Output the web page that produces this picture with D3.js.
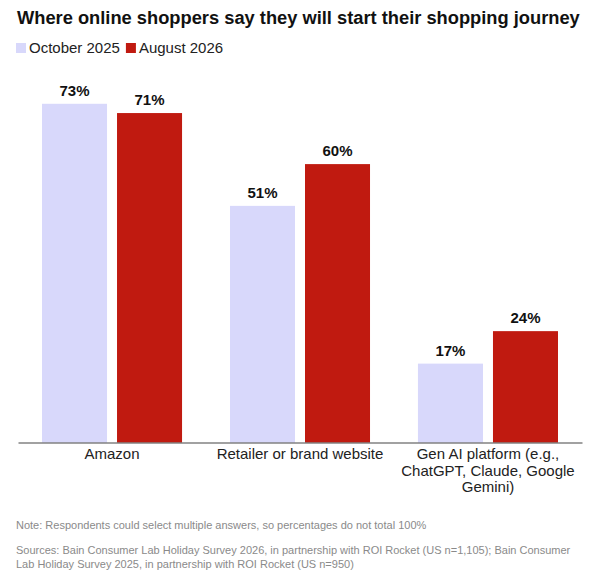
<!DOCTYPE html>
<html>
<head>
<meta charset="utf-8">
<script src="https://cdn.jsdelivr.net/npm/d3@7"></script>
<style>
  body { margin: 0; background: #fff; }
  svg { font-family: 'Liberation Sans', Arial, sans-serif; }
</style>
</head>
<body>
<svg id="container"></svg>
<script>
const categories = ['Amazon', 'Retailer or brand website', 'Gen AI platform (e.g., ChatGPT, Claude, Google Gemini)'];
const seriesNames = ['October 2025', 'August 2026'];
const oct2025 = [73, 51, 17];
const aug2026 = [71, 60, 24];
const seriesColors = ['#d8d8fb', '#c01a10'];
const noteText = 'Note: Respondents could select multiple answers, so percentages do not total 100%';
const sourceLines = [
  'Sources: Bain Consumer Lab Holiday Survey 2026, in partnership with ROI Rocket (US n=1,105); Bain Consumer',
  'Lab Holiday Survey 2025, in partnership with ROI Rocket (US n=950)',
];

function drawChart() {
  const W = 591;
  const H = 573;
  const svg = d3.select('#container').attr('width', W).attr('height', H);

  const values = [oct2025, aug2026];
  const rows = categories.map((c, i) => ({
    cat: c,
    vals: seriesNames.map((s, j) => ({ key: s, v: values[j][i] })),
  }));

  // title + legend
  svg
    .append('text')
    .attr('x', 17)
    .attr('y', 24)
    .attr('font-size', 18.3)
    .attr('font-weight', 'bold')
    .attr('fill', '#111')
    .text('Where online shoppers say they will start their shopping journey');

  const legend = svg.append('g').attr('transform', 'translate(16,43)');
  let lx = 0;
  seriesNames.forEach((s, i) => {
    const g = legend.append('g').attr('transform', 'translate(' + lx + ',0)');
    g.append('rect').attr('width', 10).attr('height', 10).attr('fill', seriesColors[i]);
    const t = g
      .append('text')
      .attr('x', 13)
      .attr('y', 10)
      .attr('font-size', 15)
      .attr('fill', '#222')
      .text(s);
    lx += 13 + t.node().getComputedTextLength() + 6;
  });

  const x0 = d3
    .scaleBand()
    .domain(categories)
    .range([18, 582])
    .paddingInner(0.255)
    .paddingOuter(0.1277);
  const x1 = d3
    .scaleBand()
    .domain(seriesNames)
    .range([0, x0.bandwidth()])
    .paddingInner(0.1333);
  const y = d3.scaleLinear().domain([0, 100]).range([442.5, -21.5]);
  const color = d3.scaleOrdinal().domain(seriesNames).range(seriesColors);

  const groups = svg
    .selectAll('.group')
    .data(rows)
    .enter()
    .append('g')
    .attr('class', 'group')
    .attr('transform', (d) => 'translate(' + x0(d.cat) + ',0)');

  groups
    .selectAll('rect')
    .data((d) => d.vals)
    .enter()
    .append('rect')
    .attr('x', (d) => x1(d.key))
    .attr('y', (d) => y(d.v))
    .attr('width', x1.bandwidth())
    .attr('height', (d) => y(0) - y(d.v))
    .attr('fill', (d) => color(d.key));

  groups
    .selectAll('.lbl')
    .data((d) => d.vals)
    .enter()
    .append('text')
    .attr('class', 'lbl')
    .attr('x', (d) => x1(d.key) + x1.bandwidth() / 2)
    .attr('y', (d) => y(d.v) - 8)
    .attr('text-anchor', 'middle')
    .attr('font-size', 15)
    .attr('font-weight', 'bold')
    .attr('fill', '#111')
    .text((d) => d.v + '%');

  const gX = svg
    .append('g')
    .attr('class', 'axis x-axis')
    .attr('transform', 'translate(0,' + y(0) + ')')
    .call(d3.axisBottom(x0).tickSize(0).tickPadding(6).tickSizeOuter(0));
  gX.select('.domain').attr('stroke', '#444').attr('stroke-width', 1.2);
  gX.selectAll('.tick text')
    .attr('font-size', 15)
    .attr('font-family', "'Liberation Sans', Arial, sans-serif")
    .attr('fill', '#222')
    .call(wrap, 182);

  // footnotes
  svg
    .append('text')
    .attr('x', 16)
    .attr('y', 529)
    .attr('font-size', 11)
    .attr('fill', '#8a8a8a')
    .text(noteText);
  svg
    .selectAll('.src')
    .data(sourceLines)
    .enter()
    .append('text')
    .attr('class', 'src')
    .attr('x', 16)
    .attr('y', (d, i) => 554 + i * 14)
    .attr('font-size', 11)
    .attr('fill', '#8a8a8a')
    .text((d) => d);
}

function wrap(text, width) {
  text.each(function () {
    let text = d3.select(this);
    let words = text.text().split(/\s+/).reverse();
    let word;
    let line = [];
    let lineNumber = 0;
    let lineHeight = 1.1; // ems
    let y = text.attr('y');
    let dy = parseFloat(text.attr('dy'));
    let tspan = text.text(null).append('tspan').attr('x', 0).attr('y', y).attr('dy', dy + 'em');
    while ((word = words.pop())) {
      line.push(word);
      tspan.text(line.join(' '));
      if (tspan.node().getComputedTextLength() > width) {
        line.pop();
        tspan.text(line.join(' '));
        line = [word];
        tspan = text
          .append('tspan')
          .attr('x', 0)
          .attr('y', y)
          .attr('dy', ++lineNumber * lineHeight + dy + 'em')
          .text(word);
      }
    }
  });
}

drawChart();
</script>
</body>
</html>
